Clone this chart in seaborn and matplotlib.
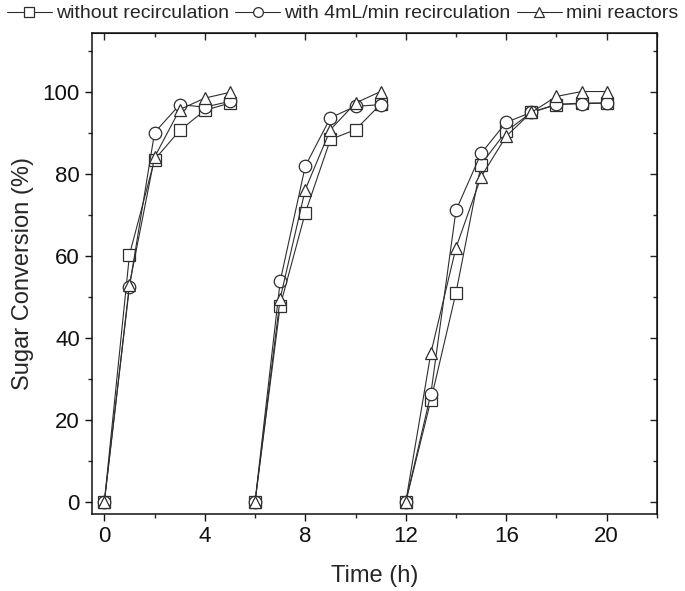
import numpy as np
import pandas as pd
import matplotlib
matplotlib.use("Agg")
import matplotlib.pyplot as plt
import seaborn as sns
from matplotlib.lines import Line2D
from matplotlib.ticker import MultipleLocator

# three batches run back to back, sampled hourly
time_h = [0, 1, 2, 3, 4, 5,
          6, 7, 8, 9, 10, 11,
          12, 13, 14, 15, 16, 17, 18, 19, 20]
batch = [1] * 6 + [2] * 6 + [3] * 9

# sugar conversion (%)
without_recirc = [0, 60.3, 83.5, 90.6, 95.5, 97.3,
                  0, 47.8, 70.5, 88.4, 90.8, 97.0,
                  0, 24.8, 51.0, 82.3, 90.4, 95.0, 96.9, 97.3, 97.3]
with_recirc = [0, 52.5, 90.1, 96.9, 96.3, 97.7,
               0, 53.8, 81.9, 93.7, 96.5, 96.9,
               0, 26.4, 71.1, 85.0, 92.6, 95.0, 97.0, 97.1, 97.3]
mini_reactors = [0, 53.0, 84.1, 95.7, 98.5, 99.9,
                 0, 49.6, 76.2, 90.8, 97.3, 100.1,
                 0, 36.3, 62.0, 79.3, 89.2, 95.0, 98.9, 100.1, 100.1]

labels = ["without recirculation", "with 4mL/min recirculation", "mini reactors"]
markers = {labels[0]: "s", labels[1]: "o", labels[2]: "^"}

df = pd.concat([
    pd.DataFrame({"time": time_h, "conv": vals, "series": lab, "batch": batch})
    for lab, vals in zip(labels, [without_recirc, with_recirc, mini_reactors])
])

sns.set_style("ticks")
plt.rcParams["font.family"] = ["Liberation Sans", "DejaVu Sans"]

ink = "#2e2e2e"
fig = plt.figure(figsize=(6.85, 5.91), dpi=100)
ax = fig.add_axes([0.134, 0.13, 0.825, 0.815])

sns.lineplot(data=df, x="time", y="conv", hue="series", style="series",
             units="batch", estimator=None, sort=False,
             palette={l: ink for l in labels}, markers=markers, dashes=False,
             markersize=9, markerfacecolor="white", markeredgecolor=ink,
             markeredgewidth=0.9, linewidth=0.8, legend=False, ax=ax)

ax.set_xlim(-0.5, 22)
ax.set_ylim(-3, 114.5)
ax.xaxis.set_major_locator(MultipleLocator(4))
ax.xaxis.set_minor_locator(MultipleLocator(2))
ax.yaxis.set_major_locator(MultipleLocator(20))
ax.yaxis.set_minor_locator(MultipleLocator(10))
ax.tick_params(which="major", direction="out", length=5, width=1, labelsize=16, colors="#111111")
ax.tick_params(which="minor", direction="out", length=3, width=1)
for s in ax.spines.values():
    s.set_visible(True)
    s.set_linewidth(1.1)
    s.set_color("#111111")

# mirrored inward ticks on top and right, Origin style
top = ax.secondary_xaxis("top")
top.xaxis.set_major_locator(MultipleLocator(4))
top.xaxis.set_minor_locator(MultipleLocator(2))
top.tick_params(which="major", direction="in", length=5, width=1, labeltop=False)
top.tick_params(which="minor", direction="in", length=3, width=1)
right = ax.secondary_yaxis("right")
right.yaxis.set_major_locator(MultipleLocator(20))
right.yaxis.set_minor_locator(MultipleLocator(10))
right.tick_params(which="major", direction="in", length=5, width=1, labelright=False)
right.tick_params(which="minor", direction="in", length=3, width=1)

ax.set_xlabel("Time (h)", fontsize=17, labelpad=13)
ax.set_ylabel("Sugar Conversion (%)", fontsize=17, labelpad=6)

handles = [Line2D([], [], color=ink, lw=0.8, marker=markers[l], markersize=7,
                  markerfacecolor="white", markeredgecolor=ink, markeredgewidth=0.9)
           for l in labels]
fig.legend(handles, labels, loc="upper center", bbox_to_anchor=(0.5, 1.0), ncol=3,
           frameon=False, fontsize=14, handlelength=2.3, handletextpad=0.2,
           columnspacing=0.35, borderaxespad=0, borderpad=0.25)

fig.savefig("out.png", dpi=100)
